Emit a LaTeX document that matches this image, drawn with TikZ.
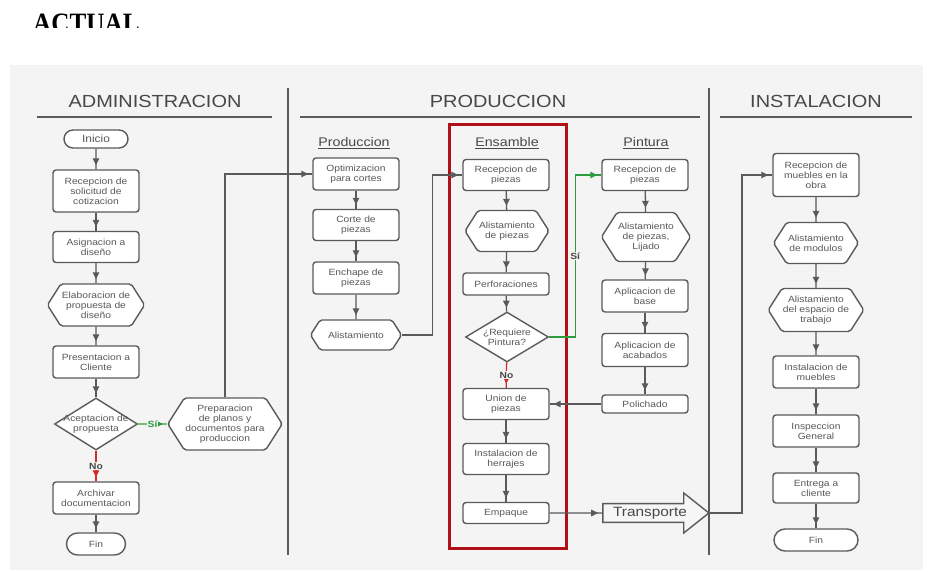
\documentclass[tikz,border=0pt]{standalone}
\usepackage{fontspec}
\setmainfont{Liberation Sans}[FakeStretch=1.14]
\newfontfamily\titlefont{Liberation Serif}[FakeStretch=0.9]
\usetikzlibrary{shapes.geometric,shapes.misc,shapes.symbols,shapes.arrows,arrows.meta,decorations.markings}

\definecolor{bgcol}{HTML}{F4F4F4}
\definecolor{edgecol}{HTML}{5A5A5A}
\definecolor{txtcol}{HTML}{595959}
\definecolor{headcol}{HTML}{484848}
\definecolor{nored}{HTML}{D42A2A}
\definecolor{sigreen}{HTML}{2E9B3C}
\definecolor{boxred}{HTML}{B01119}

\newcommand{\nodefont}{\fontsize{9}{10}\selectfont}

\tikzset{
  base/.style={draw=edgecol, line width=1.4pt, fill=white, text=txtcol,
    font=\nodefont, align=center, inner sep=1pt},
  proc/.style={base, rectangle, rounded corners=3pt, minimum width=86pt, minimum height=#1},
  hexa/.style={base, signal, signal to=west and east, signal pointer angle=115,
    rounded corners=2pt},
  decis/.style={base, diamond, inner sep=0pt},
  dtext/.style={text=txtcol, font=\nodefont, align=center, inner sep=0pt},
  term/.style={base, rounded rectangle, minimum height=#1},
  lanehead/.style={text=headcol, font=\fontsize{17.5}{20}\selectfont, inner sep=0pt},
  subhead/.style={text=headcol, font=\fontsize{12.5}{14}\selectfont, inner sep=0pt},
  flow/.style={draw=#1, line width=1.3pt, postaction={decorate},
    decoration={markings, mark=at position -4pt with {\arrow[color=#1]{Triangle[length=7pt,width=6.5pt]}}}},
  flow/.default=edgecol,
  nolbl/.style={fill=bgcol, text=headcol, font=\bfseries\nodefont, inner sep=1pt},
  silbl/.style={fill=bgcol, text=#1, font=\bfseries\nodefont, inner sep=1pt},
  trans/.style={draw=edgecol, line width=1.4pt, fill=bgcol!80!white, text=headcol,
    font=\fontsize{13.5}{15}\selectfont, single arrow, single arrow head extend=10pt,
    single arrow tip angle=77, single arrow head indent=0pt,
    minimum height=106pt, minimum width=40pt, inner sep=2pt}
}

\begin{document}
\begin{tikzpicture}[x=1pt,y=-1pt]
\useasboundingbox (0,0) rectangle (930,572);

% heading above the chart, cut along its lower edge
\begin{scope}
  \clip (0,0) rectangle (930,28);
  \node[anchor=base west, inner sep=0pt, font=\titlefont\bfseries\fontsize{28}{30}\selectfont] (title) at (33,32.5) {ACTUAL};
\end{scope}

% chart panel
\fill[bgcol] (10,65) rectangle (923,570);

% swimlane titles, rules and separators
\node[lanehead] (hadm) at (155,101) {ADMINISTRACION};
\node[lanehead] (hprod) at (498,101) {PRODUCCION};
\node[lanehead] (hinst) at (816,101) {INSTALACION};
\draw[edgecol, line width=1.3pt] (37,117) -- (272,117);
\draw[edgecol, line width=1.3pt] (300,117) -- (700,117);
\draw[edgecol, line width=1.3pt] (720,117) -- (912,117);
\draw[edgecol, line width=1.8pt] (288,88) -- (288,555);
\draw[edgecol, line width=1.8pt] (709,88) -- (709,555);

% assembly stage frame
\draw[boxred, line width=3pt] (449,125) rectangle (566,548);

% sub-lane titles
\node[subhead] (sprod) at (354,143) {\underline{Produccion}};
\node[subhead] (sens) at (507,143) {\underline{Ensamble}};
\node[subhead] (spin) at (646,143) {\underline{Pintura}};

% ---- Administracion ----
\node[term=18pt, minimum width=66pt] (ini) at (96,139) {\fontsize{10.5}{12}\selectfont Inicio};
\node[proc=42pt] (r1) at (96,191) {Recepcion de\\solicitud de\\cotizacion};
\node[proc=31pt] (r2) at (96,247) {Asignacion a\\diseño};
\node[hexa, minimum width=93pt, minimum height=42pt] (h1) at (96,305) {Elaboracion de\\propuesta de\\diseño};
\node[proc=32pt] (r3) at (96,362) {Presentacion a\\Cliente};
\node[decis, minimum width=83pt, minimum height=52pt] (d1) at (96,424) {};
\node[dtext] (d1t) at (96,424) {Aceptacion de\\propuesta};
\node[proc=32pt] (arch) at (96,498) {Archivar\\documentacion};
\node[term=22pt, minimum width=61pt] (fin1) at (96,544) {Fin};
\node[hexa, minimum width=95pt, minimum height=52pt] (prep) at (225,424) {Preparacion\\de planos y\\documentos para\\produccion};

% ---- Produccion ----
\node[proc=32pt] (opt) at (356,174) {Optimizacion\\para cortes};
\node[proc=31pt] (corte) at (356,225) {Corte de\\piezas};
\node[proc=32pt] (ench) at (356,278) {Enchape de\\piezas};
\node[hexa, minimum width=91pt, minimum height=30pt] (alist) at (356,335) {Alistamiento};

% ---- Ensamble ----
\node[proc=31pt] (er) at (506,175) {Recepcion de\\piezas};
\node[hexa, minimum width=82pt, minimum height=41pt] (ea) at (507,231) {Alistamiento\\de piezas};
\node[proc=22pt] (ep) at (506,284) {Perforaciones};
\node[decis, minimum width=83pt, minimum height=50pt] (ed) at (507,337) {};
\node[dtext] (edt) at (507,337) {¿Requiere\\Pintura?};
\node[proc=31pt] (eu) at (506,404) {Union de\\piezas};
\node[proc=31pt] (eh) at (506,459) {Instalacion de\\herrajes};
\node[proc=21pt] (ee) at (506,513) {Empaque};
\node[trans] (tr) at (650,513) {Transporte};

% ---- Pintura ----
\node[proc=31pt] (pr) at (645,175) {Recepcion de\\piezas};
\node[hexa, minimum width=84pt, minimum height=49pt] (pa) at (646,237) {Alistamiento\\de piezas,\\Lijado};
\node[proc=32pt] (pb) at (645,296) {Aplicacion de\\base};
\node[proc=33pt] (pc) at (645,350) {Aplicacion de\\acabados};
\node[proc=18pt] (pp) at (645,404) {Polichado};

% ---- Instalacion ----
\node[proc=43pt] (im) at (816,175) {Recepcion de\\muebles en la\\obra};
\node[hexa, minimum width=85pt, minimum height=41pt] (ia) at (816,243) {Alistamiento\\de modulos};
\node[hexa, minimum width=84pt, minimum height=43pt] (ib) at (816,310) {Alistamiento\\del espacio de\\trabajo};
\node[proc=32pt] (ic) at (816,372) {Instalacion de\\muebles};
\node[proc=32pt] (ig) at (816,431) {Inspeccion\\General};
\node[proc=30pt] (ie) at (816,488) {Entrega a\\cliente};
\node[term=22pt, minimum width=86pt] (fin2) at (816,540) {Fin};

% ---- connectors ----
\draw[flow] (ini) -- (r1);
\draw[flow] (r1) -- (r2);
\draw[flow] (r2) -- (h1);
\draw[flow] (h1) -- (r3);
\draw[flow] (r3) -- (d1);
\draw[flow=nored] (d1) -- node[nolbl] (lno1) {No} (arch);
\draw[flow] (arch) -- (fin1);
\draw[flow=sigreen] (d1) -- node[silbl=sigreen] (lsi1) {Sí} (prep);
\draw[flow] (prep.north) |- (opt.west);

\draw[flow] (opt) -- (corte);
\draw[flow] (corte) -- (ench);
\draw[flow] (ench) -- (alist);
\draw[flow] (alist.east) -- ++(30,0) |- (er.west);

\draw[flow] (er) -- (ea);
\draw[flow] (ea) -- (ep);
\draw[flow] (ep) -- (ed);
\draw[flow=nored] (ed) -- node[nolbl] (lno2) {No} (eu);
\draw[flow=sigreen] (ed.east) -- ++(26,0) |- node[pos=0.25, silbl=headcol] (lsi2) {Sí} (pr.west);
\draw[flow] (eu) -- (eh);
\draw[flow] (eh) -- (ee);
\draw[flow] (ee.east) -- (tr.west);
\draw[flow] (tr.tip) -- ++(32,0) |- (im.west);

\draw[flow] (pr) -- (pa);
\draw[flow] (pa) -- (pb);
\draw[flow] (pb) -- (pc);
\draw[flow] (pc) -- (pp);
\draw[flow] (pp) -- (eu);

\draw[flow] (im) -- (ia);
\draw[flow] (ia) -- (ib);
\draw[flow] (ib) -- (ic);
\draw[flow] (ic) -- (ig);
\draw[flow] (ig) -- (ie);
\draw[flow] (ie) -- (fin2);
\end{tikzpicture}
\end{document}
